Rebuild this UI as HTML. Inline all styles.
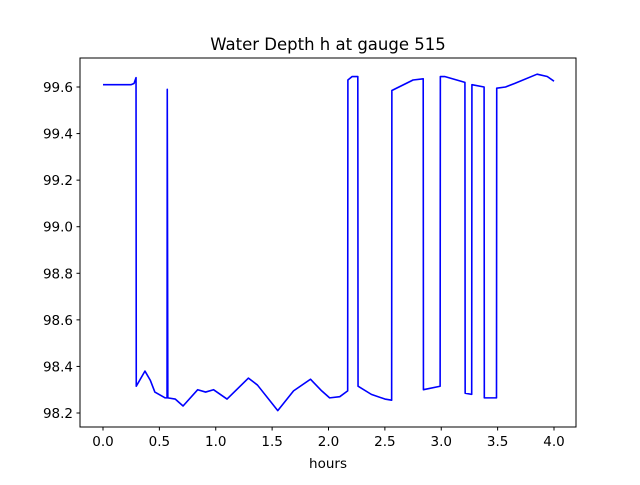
<!DOCTYPE html>
<html><head><meta charset="utf-8"><style>
body{margin:0;background:#fff}
svg text{font-family:"DejaVu Sans","Liberation Sans",sans-serif;fill:#000}
</style></head><body>
<svg width="640" height="480" viewBox="0 0 640 480">
<rect x="0" y="0" width="640" height="480" fill="#fff"/>
<text x="328" y="50" font-size="16.5" text-anchor="middle">Water Depth h at gauge 515</text>
<g id="axes"></g>
<g id="plot"></g>
<rect x="80" y="58" width="496" height="369" fill="none" stroke="#000" stroke-width="1"/>
<text x="328" y="468" font-size="13.5" text-anchor="middle">hours</text>
</svg>
<script>
const xTicks=[0,0.5,1,1.5,2,2.5,3,3.5,4];
const xTickLabels=["0.0","0.5","1.0","1.5","2.0","2.5","3.0","3.5","4.0"];
const yTicks=[98.2,98.4,98.6,98.8,99.0,99.2,99.4,99.6];
const yTickLabels=["98.2","98.4","98.6","98.8","99.0","99.2","99.4","99.6"];
const times=[0,0.25,0.275,0.293,0.295,0.372,0.42,0.46,0.55,0.568,0.57,0.575,0.64,0.71,0.84,0.91,0.98,1.10,1.29,1.37,1.55,1.69,1.84,1.94,2.01,2.10,2.17,2.172,2.21,2.26,2.262,2.38,2.50,2.56,2.562,2.75,2.84,2.842,2.99,2.992,3.03,3.21,3.212,3.27,3.272,3.38,3.382,3.49,3.492,3.57,3.65,3.85,3.94,4.0];
const values=[99.61,99.61,99.615,99.64,98.315,98.38,98.34,98.29,98.265,98.265,99.59,98.265,98.26,98.23,98.30,98.29,98.30,98.26,98.35,98.32,98.21,98.295,98.345,98.295,98.265,98.27,98.295,99.63,99.645,99.645,98.315,98.28,98.26,98.255,99.585,99.63,99.635,98.3,98.315,99.645,99.645,99.62,98.285,98.28,99.61,99.60,98.265,98.265,99.595,99.6,99.615,99.655,99.645,99.625];
const X=t=>103+t*112.75;
const Y=v=>87+(99.6-v)*232.86;
const NS="http://www.w3.org/2000/svg";
const axes=document.getElementById('axes');
xTicks.forEach((t,i)=>{
  const l=document.createElementNS(NS,'line');
  l.setAttribute('x1',X(t));l.setAttribute('x2',X(t));l.setAttribute('y1',427);l.setAttribute('y2',430.5);l.setAttribute('stroke','#000');
  
  
  axes.appendChild(l);
  const tx=document.createElementNS(NS,'text');
  tx.setAttribute('x',X(t));tx.setAttribute('y',446);tx.setAttribute('font-size','13.5');tx.setAttribute('text-anchor','middle');
  tx.textContent=xTickLabels[i];
  
  
  axes.appendChild(tx);
});
yTicks.forEach((v,i)=>{
  const l=document.createElementNS(NS,'line');
  l.setAttribute('x1',76.5);l.setAttribute('x2',80);l.setAttribute('y1',Y(v));l.setAttribute('y2',Y(v));l.setAttribute('stroke','#000');
  
  
  axes.appendChild(l);
  const tx=document.createElementNS(NS,'text');
  tx.setAttribute('x',73);tx.setAttribute('y',Y(v)+5);tx.setAttribute('font-size','13.5');tx.setAttribute('text-anchor','end');
  tx.textContent=yTickLabels[i];
  
  
  axes.appendChild(tx);
});
const p=document.createElementNS(NS,'polyline');
p.setAttribute('points',times.map((t,i)=>X(t)+','+Y(values[i])).join(' '));
p.setAttribute('fill','none');p.setAttribute('stroke','#0000ff');p.setAttribute('stroke-width','1.6');p.setAttribute('stroke-linejoin','round');


document.getElementById('plot').appendChild(p);
</script>
</body></html>
